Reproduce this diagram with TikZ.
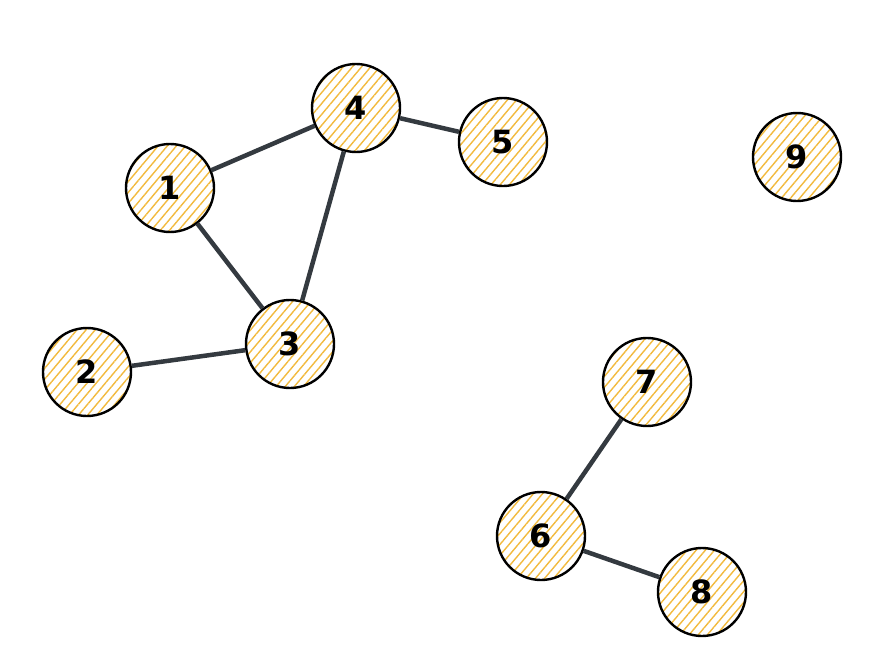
\documentclass[tikz,border=0pt]{standalone}
\usepackage{fontspec}
\setmainfont{DejaVu Sans}
\usetikzlibrary{patterns.meta}
\definecolor{hatch}{HTML}{F2BA3E}
\definecolor{edgec}{HTML}{343A40}
\tikzset{
  vert/.style={circle, minimum size=88pt, inner sep=0pt, draw=black, line width=2.4pt,
    pattern={Lines[angle=50,distance=7pt,line width=1.4pt]}, pattern color=hatch,
    font=\fontsize{32pt}{32pt}\selectfont\bfseries},
  link/.style={draw=edgec, line width=4.5pt},
}
\begin{document}
\begin{tikzpicture}[x=1pt,y=-1pt]
\useasboundingbox (0,0) rectangle (884,672);
\node[vert] (n1) at (170,188) {1};
\node[vert] (n4) at (356,108) {4};
\node[vert] (n5) at (503,142) {5};
\node[vert] (n9) at (797,157) {9};
\node[vert] (n3) at (290,344) {3};
\node[vert] (n2) at (87,372) {2};
\node[vert] (n7) at (647,382) {7};
\node[vert] (n6) at (541,536) {6};
\node[vert] (n8) at (702,592) {8};
\draw[link] (n1) -- (n4);
\draw[link] (n1) -- (n3);
\draw[link] (n3) -- (n4);
\draw[link] (n4) -- (n5);
\draw[link] (n2) -- (n3);
\draw[link] (n7) -- (n6);
\draw[link] (n6) -- (n8);
\end{tikzpicture}
\end{document}
